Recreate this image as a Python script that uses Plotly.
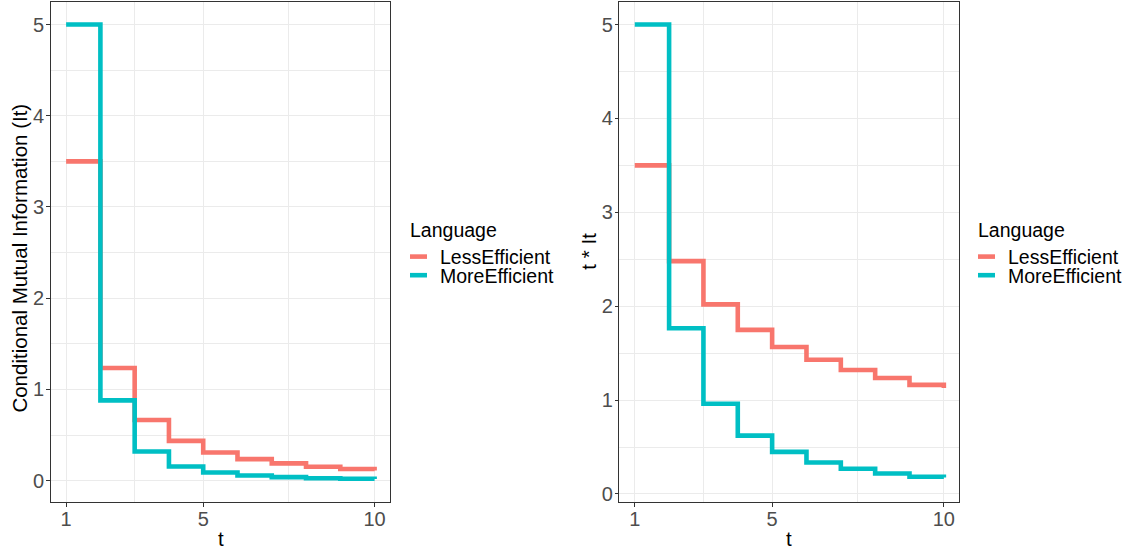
import plotly.graph_objects as go

t = [1, 2, 3, 4, 5, 6, 7, 8, 9, 10]
languages = ["LessEfficient", "MoreEfficient"]

# Conditional mutual information It (left panel)
it_less = [3.5, 1.235, 0.665, 0.436, 0.309, 0.236, 0.189, 0.153, 0.127, 0.111]
it_more = [5.0, 0.88, 0.32, 0.155, 0.09, 0.056, 0.039, 0.027, 0.020, 0.017]

# t * It (right panel)
tit_less = [3.5, 2.48, 2.02, 1.748, 1.565, 1.43, 1.321, 1.236, 1.162, 1.13]
tit_more = [5.0, 1.766, 0.961, 0.622, 0.449, 0.336, 0.269, 0.219, 0.184, 0.177]

x_ticks = [1, 5, 10]
x_minor = [3, 7.5]
y_ticks = [0, 1, 2, 3, 4, 5]
y_minor = [0.5, 1.5, 2.5, 3.5, 4.5]

legend_title = "Language"
colors = {"LessEfficient": "#F8766D", "MoreEfficient": "#00BFC4"}

W, H = 1129, 552
FONT = "Liberation Sans, Arial, Helvetica, sans-serif"

fig = go.Figure()

panels = [
    ("x", "y", {"LessEfficient": it_less, "MoreEfficient": it_more}),
    ("x2", "y2", {"LessEfficient": tit_less, "MoreEfficient": tit_more}),
]
for xa, ya, series in panels:
    for lang in languages:
        fig.add_trace(go.Scatter(
            x=t, y=series[lang], mode="lines", name=lang,
            line=dict(color=colors[lang], width=4.6, shape="hv"),
            xaxis=xa, yaxis=ya, showlegend=False,
        ))

def px_x(p):
    return p / W

def px_y(p):
    return 1 - p / H

ydom = [px_y(505), px_y(2.3)]

common_x = dict(
    range=[0.55, 10.45], tickmode="array", tickvals=x_ticks,
    ticktext=[str(v) for v in x_ticks],
    showgrid=True, gridcolor="#EBEBEB", gridwidth=1.1,
    minor=dict(tickmode="array", tickvals=x_minor, showgrid=True,
               gridcolor="#EBEBEB", gridwidth=0.6),
    showline=True, linecolor="#333333", linewidth=1.1, mirror=True,
    ticks="outside", ticklen=3.5, tickcolor="#333333", tickwidth=1,
    ticklabelstandoff=-5,
    zeroline=False, tickfont=dict(family=FONT, size=20, color="#4D4D4D"),
    fixedrange=True,
)
common_y = dict(
    tickmode="array", tickvals=y_ticks, ticktext=[str(v) for v in y_ticks],
    showgrid=True, gridcolor="#EBEBEB", gridwidth=1.1,
    minor=dict(tickmode="array", tickvals=y_minor, showgrid=True,
               gridcolor="#EBEBEB", gridwidth=0.6),
    showline=True, linecolor="#333333", linewidth=1.1, mirror=True,
    ticks="outside", ticklen=3.5, tickcolor="#333333", tickwidth=1,
    ticklabelstandoff=-2,
    zeroline=False, tickfont=dict(family=FONT, size=20, color="#4D4D4D"),
    fixedrange=True,
)

fig.update_layout(
    width=W, height=H,
    margin=dict(l=0, r=0, t=0, b=0),
    paper_bgcolor="white", plot_bgcolor="white",
    font=dict(family=FONT, size=19, color="black"),
    xaxis=dict(domain=[px_x(50.7), px_x(390)], anchor="y", **common_x),
    yaxis=dict(domain=ydom, anchor="x", range=[-0.237, 5.244], **common_y),
    xaxis2=dict(domain=[px_x(619.3), px_x(959.3)], anchor="y2", **common_x),
    yaxis2=dict(domain=ydom, anchor="x2", range=[-0.088, 5.237], **common_y),
    showlegend=False,
)

annotations = [
    dict(text="Conditional Mutual Information (It)", x=px_x(20), y=px_y(260),
         textangle=-90, xanchor="center", font_size=20.5),
    dict(text="t * It", x=px_x(589), y=px_y(253), textangle=-90,
         xanchor="center", font_size=20.5),
    dict(text="t", x=px_x(221), y=px_y(541), xanchor="center", font_size=20.5),
    dict(text="t", x=px_x(789), y=px_y(541), xanchor="center", font_size=20.5),
]

# ggplot-style legends, one per panel
for lx in (410, 978):
    annotations.append(dict(text=legend_title, x=px_x(lx - 1), y=px_y(231),
                            xanchor="left", font_size=19.5))
    for i, lang in enumerate(languages):
        yc = 258 + i * 18.7
        fig.add_shape(type="line", xref="paper", yref="paper",
                      x0=px_x(lx), x1=px_x(lx + 17), y0=px_y(yc), y1=px_y(yc),
                      line=dict(color=colors[lang], width=4.6))
        annotations.append(dict(text=lang, x=px_x(lx + 28.5), y=px_y(yc + 0.5),
                                xanchor="left", font_size=19.5))

for a in annotations:
    size = a.pop("font_size")
    fig.add_annotation(xref="paper", yref="paper", yanchor="middle",
                       showarrow=False, borderpad=0,
                       font=dict(family=FONT, size=size, color="black"), **a)

fig.write_html("out.html", config={"displayModeBar": False},
               post_script="document.body.style.margin='0';")
